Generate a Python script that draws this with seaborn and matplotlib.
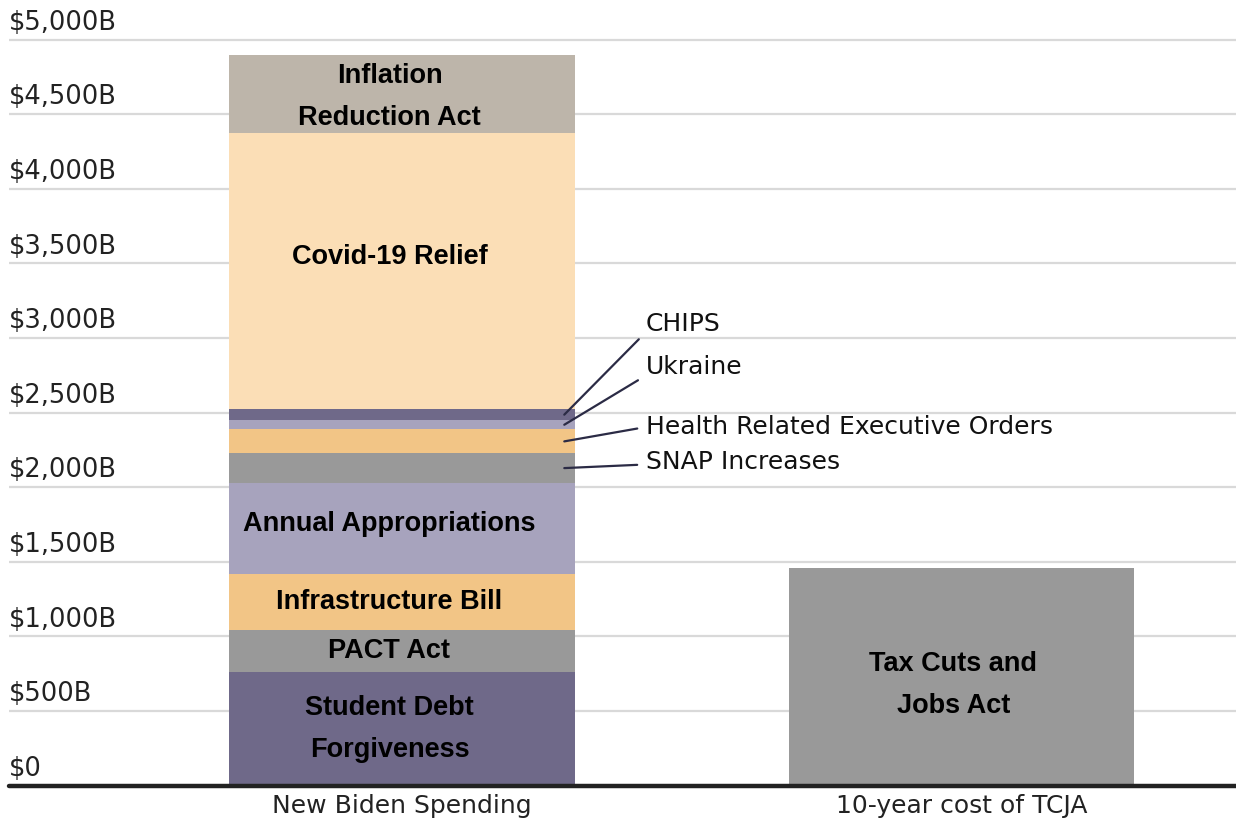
import matplotlib
matplotlib.use("Agg")
import matplotlib.pyplot as plt
import seaborn as sns
import numpy as np

# ---- data ----
categories = ["New Biden Spending", "10-year cost of TCJA"]
segment_names = ["Student Debt\nForgiveness", "PACT Act", "Infrastructure Bill",
                 "Annual Appropriations", "SNAP Increases",
                 "Health Related Executive Orders", "Ukraine", "CHIPS",
                 "Covid-19 Relief", "Inflation\nReduction Act"]
segment_values = [763, 280, 375, 611, 197, 161, 62, 73, 1852, 525]
tcja_name = "Tax Cuts and\nJobs Act"
tcja_value = 1460
ytick_values = [0, 500, 1000, 1500, 2000, 2500, 3000, 3500, 4000, 4500, 5000]
ytick_labels = ["$0", "$500B", "$1,000B", "$1,500B", "$2,000B", "$2,500B",
                "$3,000B", "$3,500B", "$4,000B", "$4,500B", "$5,000B"]

# ---- styles ----
PURPLE = "#6f6989"
GREY = "#999999"
ORANGE = "#f2c586"
LAV = "#a7a3bd"
PEACH = "#fbdeb6"
TAUPE = "#bdb5aa"
segment_colors = [PURPLE, GREY, ORANGE, LAV, GREY, ORANGE, LAV, PURPLE, PEACH, TAUPE]
callouts = {"CHIPS": (3096, 0.15), "Ukraine": (2805, 0.15),
            "Health Related Executive Orders": (2403, 0.5),
            "SNAP Increases": (2168, 0.4)}
label_nudge = {"Covid-19 Relief": 10, "Annual Appropriations": 3,
               "Inflation\nReduction Act": -2}

sns.set_theme(style="white")
plt.rcParams["font.family"] = ["DejaVu Sans"]

fig = plt.figure(figsize=(12.36, 8.23), dpi=100)
ax = fig.add_axes([9 / 1236, 37.5 / 823, 1 - 9 / 1236, 785.5 / 823])

bar_w = 0.617
cum = np.cumsum(segment_values)
# stacked bars drawn as overlapping cumulative bars, top layer first
for i in range(len(segment_values) - 1, -1, -1):
    sns.barplot(x=[categories[0]], y=[cum[i]], order=categories,
                color=segment_colors[i], saturation=1, width=bar_w,
                linewidth=0, ax=ax, zorder=2)
sns.barplot(x=[categories[1]], y=[tcja_value], order=categories,
            color=GREY, saturation=1, width=bar_w, linewidth=0, ax=ax, zorder=2)

ax.set_xlim(-0.702, 1.49)
ax.set_ylim(0, 5265)
ax.set_xlabel("")
ax.set_ylabel("")
for s in ax.spines.values():
    s.set_visible(False)

ax.set_yticks(ytick_values)
ax.set_yticklabels([])
ax.tick_params(axis="y", length=0)
ax.yaxis.grid(True, color="#d9d9d9", lw=1.6, zorder=0)
ax.set_axisbelow(True)
ax.axhline(0, color="#222222", lw=3.2, zorder=5, clip_on=False)

for v, lab in zip(ytick_values, ytick_labels):
    ax.annotate(lab, xy=(0, v), xycoords=("axes fraction", "data"),
                xytext=(0, 7), textcoords="offset points",
                ha="left", va="baseline", fontsize=18.5, color="#222222")

ax.set_xticks([0, 1])
ax.set_xticklabels(categories)
ax.tick_params(axis="x", length=0, pad=6, labelsize=18, labelcolor="#222222")

bold = dict(family=["Liberation Sans", "DejaVu Sans"], fontweight="bold",
            fontsize=19.5, color="black", ha="center", va="center",
            linespacing=1.8)

bottoms = cum - np.array(segment_values)
for name, val, b in zip(segment_names, segment_values, bottoms):
    mid = b + val / 2
    if name in callouts:
        ty, rp = callouts[name]
        ax.annotate(name, xy=(0.29, mid), xytext=(0.436, ty),
                    textcoords="data", ha="left", va="center",
                    fontsize=18, color="#111111",
                    arrowprops=dict(arrowstyle="-", color="#2b2b45", lw=1.6,
                                    shrinkA=4, shrinkB=0, relpos=(0, rp)),
                    zorder=6)
    else:
        ax.annotate(name, xy=(0, mid), xytext=(-9, label_nudge.get(name, 0)),
                    textcoords="offset points", zorder=6, **bold)

ax.annotate(tcja_name, xy=(1, tcja_value / 2), xytext=(-6, -6),
            textcoords="offset points", zorder=6, **bold)

fig.savefig("out.png", dpi=100)
